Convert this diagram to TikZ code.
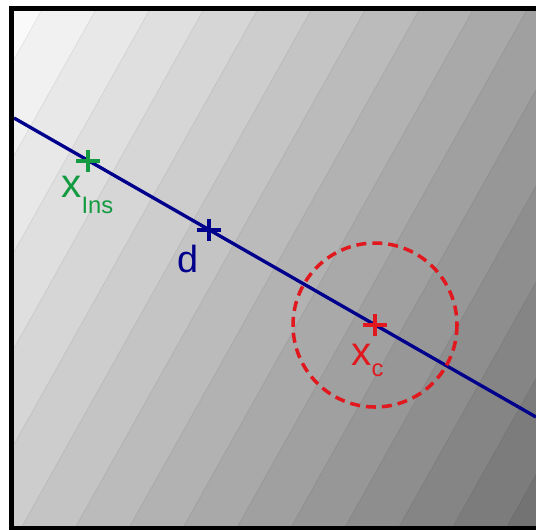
\documentclass[tikz,border=0pt]{standalone}
\usepackage{fontspec}
\setmainfont{Liberation Sans}
\usetikzlibrary{calc}
\definecolor{insgreen}{RGB}{20,155,65}
\definecolor{dblue}{RGB}{0,0,140}
\definecolor{cred}{RGB}{225,25,30}
\tikzset{
  frame/.style={line width=2.8pt, draw=black},
  descline/.style={line width=1.9pt, draw=dblue},
  cross/.style={line width=2.3pt},
  trustcircle/.style={draw=cred, line width=2pt, dash pattern=on 5.7pt off 3.4pt},
  lbl/.style={inner sep=0pt, anchor=base west, font=\fontsize{23pt}{26pt}\selectfont}
}
\newcommand{\subtxt}[2]{\raisebox{-#1}{\fontsize{13.5pt}{15pt}\selectfont #2}}

\begin{document}
\begin{tikzpicture}[x=0.02cm, y=-0.02cm]
    \useasboundingbox (0,0) rectangle (536,529);

    % 1. Fondo en bandas
    \begin{scope}
        \clip (14,11) rectangle (536,526);
        \foreach \k in {-1,...,14} {
            \pgfmathsetmacro{\qa}{47.3+53.9*\k}
            \pgfmathtruncatemacro{\g}{250-9*(\k+1)}
            \definecolor{bandcol}{RGB}{\g,\g,\g}
            \fill[bandcol] (\qa+5.6,-10) -- (\qa+1200,-10) -- (\qa+1200,540) -- (\qa-302.4,540) -- cycle;
            \draw[black, opacity=0.06, line width=0.5pt] (\qa+5.6,-10) -- (\qa-302.4,540);
        }
    \end{scope}

    % 2. Recta
    \coordinate (lineA) at (14,118);
    \coordinate (lineB) at (536,417);
    \draw[descline] (lineA) -- (lineB);

    % 3. Puntos y circulo
    \coordinate (xins) at (88,161);
    \coordinate (dpt) at (209,230);
    \coordinate (xc) at (375,325);
    \draw[trustcircle] (xc) circle (82);

    \foreach \p/\c in {xins/insgreen, dpt/dblue, xc/cred} {
        \draw[cross, \c] ($(\p)+(-12,0)$) -- ($(\p)+(12,0)$);
        \draw[cross, \c] ($(\p)+(0,-11)$) -- ($(\p)+(0,11)$);
    }

    % 4. Etiquetas
    \node[lbl, text=insgreen] (lblins) at (61,197) {x\subtxt{9.4pt}{Ins}};
    \node[lbl, text=dblue, font=\fontsize{21.5pt}{24pt}\selectfont] (lbld) at (177,272) {d};
    \node[lbl, text=cred] (lblc) at (351,365) {x\subtxt{6.6pt}{c}};

    % 5. Marco
    \draw[frame] (11.5,8.5) rectangle (560,528.5);

\end{tikzpicture}
\end{document}
